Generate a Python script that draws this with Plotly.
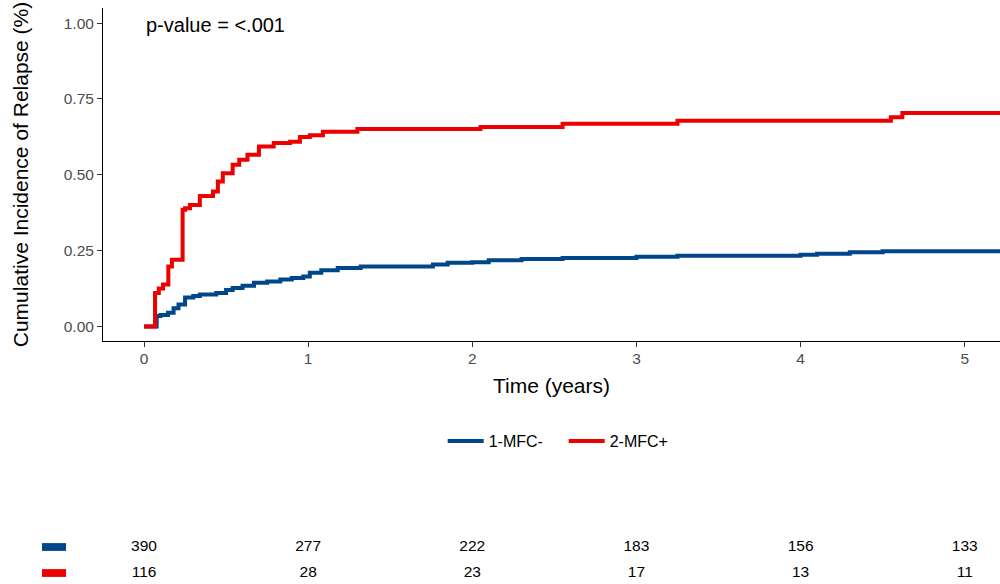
import plotly.graph_objects as go

# ---- data ----
blue_name = "1-MFC-"
red_name = "2-MFC+"
blue_t = [0, 0.077, 0.10, 0.146, 0.18, 0.21, 0.25, 0.30, 0.34, 0.44, 0.50, 0.54, 0.60, 0.67, 0.75,
          0.83, 0.90, 0.97, 1.01, 1.08, 1.18, 1.32, 1.76, 1.85, 2.0, 2.1, 2.3, 2.55, 3.0, 3.25,
          4.0, 4.1, 4.3, 4.5, 5.22]
blue_y = [0, 0.034, 0.038, 0.045, 0.06, 0.072, 0.095, 0.10, 0.105, 0.11, 0.12, 0.127, 0.134, 0.144, 0.148,
          0.155, 0.16, 0.165, 0.177, 0.185, 0.193, 0.198, 0.204, 0.21, 0.212, 0.218, 0.222, 0.226, 0.23, 0.233,
          0.236, 0.24, 0.245, 0.248, 0.25]
red_t = [0, 0.067, 0.09, 0.116, 0.148, 0.17, 0.235, 0.25, 0.28, 0.34, 0.42, 0.45, 0.48, 0.54, 0.58,
         0.63, 0.70, 0.79, 0.89, 0.95, 1.01, 1.09, 1.30, 2.05, 2.55, 3.25, 4.55, 4.62, 5.22]
red_y = [0, 0.11, 0.125, 0.138, 0.198, 0.22, 0.385, 0.39, 0.40, 0.43, 0.445, 0.478, 0.505, 0.533, 0.55,
         0.566, 0.593, 0.605, 0.609, 0.625, 0.63, 0.642, 0.651, 0.658, 0.668, 0.678, 0.69, 0.704, 0.704]

risk_times = [0, 1, 2, 3, 4, 5]
blue_risk = [390, 277, 222, 183, 156, 133]
red_risk = [116, 28, 23, 17, 13, 11]

y_ticks = [0, 0.25, 0.5, 0.75, 1.0]
y_ticklabels = ["0.00", "0.25", "0.50", "0.75", "1.00"]
x_ticks = [0, 1, 2, 3, 4, 5]

BLUE = "#00468B"
RED = "#ED0000"
FONT = "Liberation Sans, Arial, sans-serif"

fig = go.Figure()
fig.add_trace(go.Scatter(x=blue_t, y=blue_y, mode="lines", line=dict(color=BLUE, width=4, shape="hv"),
                         name=blue_name, xaxis="x", yaxis="y"))
fig.add_trace(go.Scatter(x=red_t, y=red_y, mode="lines", line=dict(color=RED, width=4, shape="hv"),
                         name=red_name, xaxis="x", yaxis="y"))

# risk table
fig.add_trace(go.Scatter(x=risk_times, y=[1] * len(risk_times), mode="text",
                         text=[str(v) for v in blue_risk], textfont=dict(size=15.5, color="black", family=FONT),
                         showlegend=False, xaxis="x2", yaxis="y2", hoverinfo="skip"))
fig.add_trace(go.Scatter(x=risk_times, y=[0] * len(risk_times), mode="text",
                         text=[str(v) for v in red_risk], textfont=dict(size=15.5, color="black", family=FONT),
                         showlegend=False, xaxis="x2", yaxis="y2", hoverinfo="skip"))

xr = [-0.25, 5.215]
fig.update_layout(
    width=1000, height=584,
    margin=dict(l=103, r=0, t=8, b=0),
    paper_bgcolor="white", plot_bgcolor="white",
    font=dict(family=FONT, color="black"),
    showlegend=True,
    legend=dict(orientation="h", x=0.5136, xanchor="center", y=0.248, yanchor="middle",
                font=dict(size=16, color="black"), itemwidth=36,
                entrywidth=70, entrywidthmode="pixels"),
    xaxis=dict(domain=[0, 1], range=xr, tickvals=x_ticks, ticks="outside", ticklen=5, tickcolor="#333333",
               showline=True, linecolor="black", linewidth=1, showgrid=False, zeroline=False,
               tickfont=dict(size=15.5, color="#4D4D4D"), ticklabelstandoff=-2,
               title=dict(text="Time (years)", font=dict(size=21, color="black"), standoff=12),
               anchor="y"),
    yaxis=dict(domain=[0.4219, 1], range=[-0.048, 1.05], tickvals=y_ticks, ticktext=y_ticklabels,
               ticks="outside", ticklen=5, tickcolor="#333333",
               showline=True, linecolor="black", linewidth=1, showgrid=False, zeroline=False,
               tickfont=dict(size=15.5, color="#4D4D4D"),
               title=dict(text="Cumulative Incidence of Relapse (%)", font=dict(size=21, color="black"),
                          standoff=29),
               anchor="x"),
    xaxis2=dict(domain=[0, 1], range=xr, visible=False, anchor="y2"),
    yaxis2=dict(domain=[0, 0.09375], range=[-0.423, 1.654], visible=False, anchor="x2"),
    annotations=[dict(x=0, y=0.995, xref="x", yref="y", text="p-value = &lt;.001", showarrow=False,
                      xanchor="left", yanchor="middle", font=dict(size=20, color="black"))],
    shapes=[
        dict(type="rect", xref="paper", yref="y2", x0=-0.068, x1=-0.0412, y0=1 - 0.15, y1=1 + 0.15,
             fillcolor=BLUE, line=dict(width=0)),
        dict(type="rect", xref="paper", yref="y2", x0=-0.068, x1=-0.0412, y0=0 - 0.15, y1=0 + 0.15,
             fillcolor=RED, line=dict(width=0)),
    ],
)

fig.write_html("out.html", config={"displayModeBar": False},
               post_script="document.body.style.margin='0';document.body.style.overflow='hidden';")
